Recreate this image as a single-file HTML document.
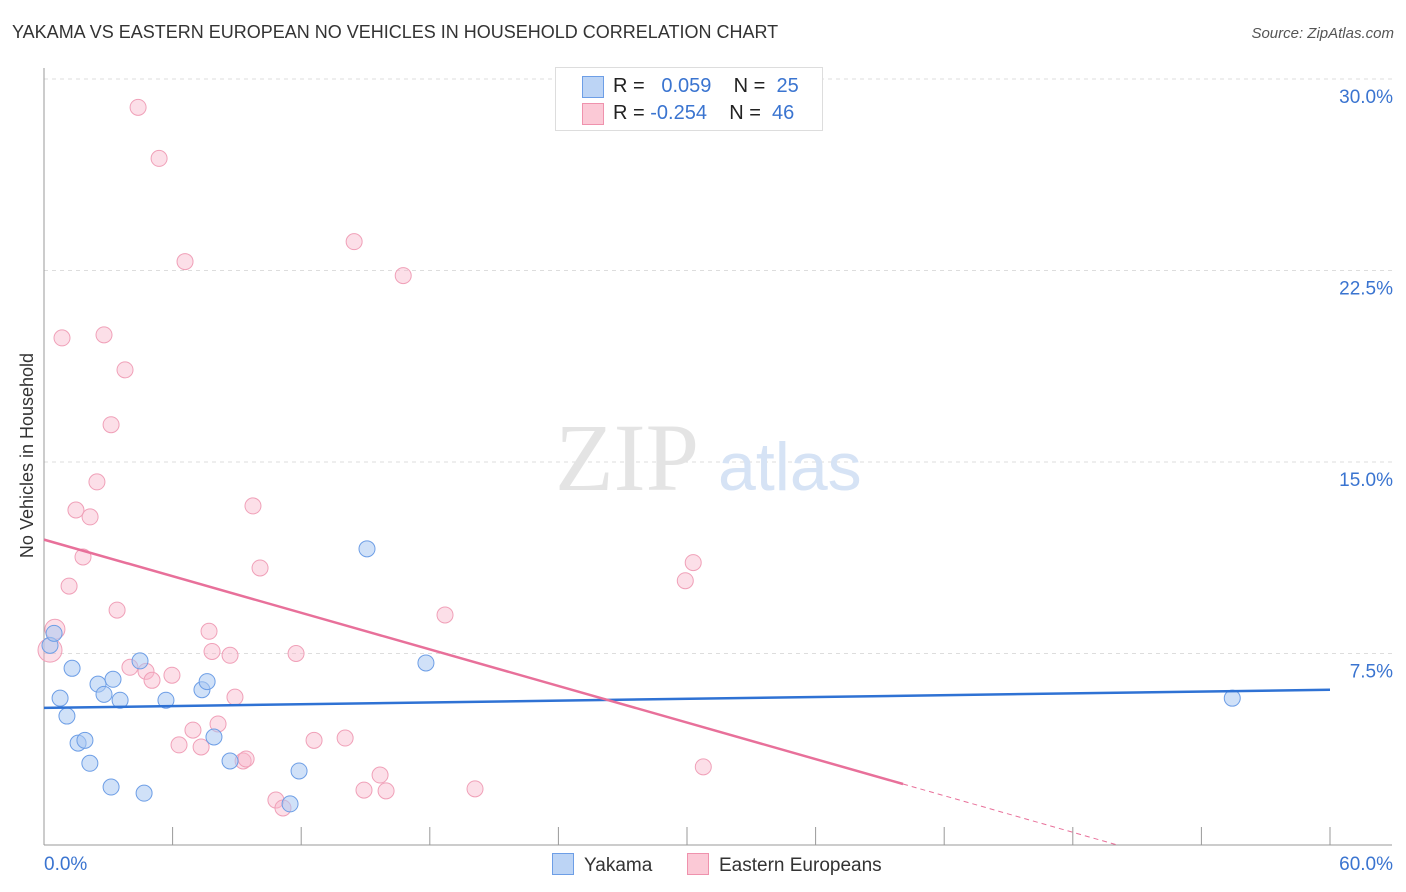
<!DOCTYPE html>
<html><head><meta charset="utf-8"><style>
body{margin:0;width:1406px;height:892px;background:#fff;font-family:"Liberation Sans",sans-serif;overflow:hidden;position:relative}
.t{position:absolute;white-space:nowrap}
</style></head><body>
<div class="t" style="left:12px;top:22px;font-size:18px;color:#333">YAKAMA VS EASTERN EUROPEAN NO VEHICLES IN HOUSEHOLD CORRELATION CHART</div>
<div class="t" style="right:12px;top:25px;font-size:15px;color:#555;font-style:italic">Source: ZipAtlas.com</div>
<div class="t" style="left:-75px;top:445px;font-size:18px;color:#333;transform:rotate(-90deg)">No Vehicles in Household</div>
<svg id="c" width="1406" height="892" style="position:absolute;left:0;top:0"></svg>
<div style="position:absolute;left:555px;top:67px;width:266px;height:62px;border:1px solid #ddd;background:#fff;font-size:20px">
 <div style="position:absolute;left:26px;top:8px;width:20px;height:20px;background:#bcd4f5;border:1px solid #6d9ee6"></div>
 <div class="t" style="left:57px;top:7px;color:#222">R = &nbsp;&nbsp;<span style="color:#3a74d0">0.059</span>&nbsp;&nbsp;&nbsp;&nbsp;N = &nbsp;<span style="color:#3a74d0">25</span></div>
 <div style="position:absolute;left:26px;top:35px;width:20px;height:20px;background:#fbc9d6;border:1px solid #ef92ad"></div>
 <div class="t" style="left:57px;top:34px;color:#222">R = <span style="color:#3a74d0">-0.254</span>&nbsp;&nbsp;&nbsp;&nbsp;N = &nbsp;<span style="color:#3a74d0">46</span></div>
</div>
<div style="position:absolute;left:552px;top:853px;font-size:19px;color:#333">
 <span style="display:inline-block;width:20px;height:20px;background:#bcd4f5;border:1px solid #6d9ee6;vertical-align:-4px;margin-right:10px"></span>Yakama</div>
<div style="position:absolute;left:687px;top:853px;font-size:19px;color:#333">
 <span style="display:inline-block;width:20px;height:20px;background:#fbc9d6;border:1px solid #ef92ad;vertical-align:-4px;margin-right:10px"></span>Eastern Europeans</div>
<script>
const yTicks=[7.5,15,22.5,30];
const yTickLabels=["7.5%","15.0%","22.5%","30.0%"];
const xTicks=[0,6,12,18,24,30,36,42,48,54,60];
const yakX=[0.28,0.47,1.31,0.75,1.07,1.59,1.91,2.14,2.52,2.8,3.22,3.55,3.13,4.67,4.48,5.69,7.37,7.61,7.93,8.68,11.48,11.9,15.07,17.82,55.44];
const yakY=[7.82,8.29,6.92,5.75,5.05,3.99,4.1,3.2,6.3,5.9,6.49,5.67,2.27,2.03,7.21,5.67,6.08,6.4,4.23,3.29,1.61,2.9,11.6,7.13,5.75];
const eeX=[4.39,5.37,6.58,14.47,16.76,0.84,2.8,3.78,3.13,2.47,1.49,2.15,1.82,1.17,3.41,0.51,0.28,4.01,4.76,5.04,5.97,7.7,7.84,8.68,8.91,9.75,10.08,11.76,6.95,6.3,7.33,8.12,9.29,9.43,12.6,14.05,15.68,14.93,15.96,10.82,11.15,18.71,29.92,30.29,30.76,20.11];
const eeY=[28.89,26.89,22.85,23.63,22.3,19.86,19.98,18.61,16.46,14.22,13.12,12.85,11.28,10.14,9.2,8.45,7.63,6.96,6.8,6.45,6.65,8.37,7.58,7.43,5.79,13.28,10.85,7.5,4.5,3.92,3.84,4.74,3.29,3.37,4.1,4.19,2.74,2.15,2.12,1.76,1.45,9.01,10.35,11.06,3.06,2.2];
const yakLine=[5.37,6.08];
const eeLine=[11.96,-0.2388,40.08];
const X0=44,X1=1330,YB=845,YT=79;
const sx=v=>X0+v/60*(X1-X0), sy=v=>YB-v/30*(YB-YT);
const svg=document.getElementById('c'),NS='http://www.w3.org/2000/svg';
function mk(t,a){const e=document.createElementNS(NS,t);for(const k in a)e.setAttribute(k,a[k]);svg.appendChild(e);return e;}
yTicks.forEach((v,i)=>{
 const g=mk('line',{x1:X0,x2:1392,y1:sy(v),y2:sy(v),stroke:'#ddd','stroke-dasharray':'4,4'});
 
 
 const t=mk('text',{x:1393,y:sy(v)+24,'text-anchor':'end','font-size':19,fill:'#3a74d0','font-family':'Liberation Sans'});
 t.textContent=yTickLabels[i];
 
 
});
const ax=mk('line',{x1:X0,x2:X0,y1:68,y2:YB,stroke:'#999'});


const bx=mk('line',{x1:X0,x2:1392,y1:YB,y2:YB,stroke:'#999'});


xTicks.forEach(v=>{const l=mk('line',{x1:sx(v),x2:sx(v),y1:827,y2:YB,stroke:'#999'});
 
 });
[["0.0%",44,'start'],["60.0%",1393,'end']].forEach(d=>{const t=mk('text',{x:d[1],y:870,'text-anchor':d[2],'font-size':19,fill:'#3a74d0','font-family':'Liberation Sans'});t.textContent=d[0];
 
 });
const w1=mk('text',{x:555,y:490,'font-size':96,fill:'#e4e4e4','font-family':'Liberation Serif'});w1.textContent='ZIP';


const w2=mk('text',{x:718,y:490,'font-size':68,fill:'#d6e3f5','font-family':'Liberation Sans'});w2.textContent='atlas';


eeX.forEach((v,i)=>{const c=mk('circle',{cx:sx(v),cy:sy(eeY[i]),r:(i==16||i==15)?(i==16?12:10):8,fill:'rgba(248,185,205,0.45)',stroke:'#f0a0b8','stroke-width':1});
 
 });
yakX.forEach((v,i)=>{const c=mk('circle',{cx:sx(v),cy:sy(yakY[i]),r:8,fill:'rgba(170,200,242,0.55)',stroke:'#6d9ee6','stroke-width':1});
 
 });
const bl=mk('line',{x1:sx(0),y1:sy(yakLine[0]),x2:sx(60),y2:sy(yakLine[1]),stroke:'#2f72d4','stroke-width':2.5});


const pe=eeLine[2],pz=-eeLine[0]/eeLine[1];
const pl=mk('line',{x1:sx(0),y1:sy(eeLine[0]),x2:sx(pe),y2:sy(eeLine[0]+eeLine[1]*pe),stroke:'#e8709a','stroke-width':2.5});


const pd=mk('line',{x1:sx(pe),y1:sy(eeLine[0]+eeLine[1]*pe),x2:sx(pz),y2:sy(0),stroke:'#e8709a','stroke-width':1,'stroke-dasharray':'5,4'});


</script>
</body></html>
